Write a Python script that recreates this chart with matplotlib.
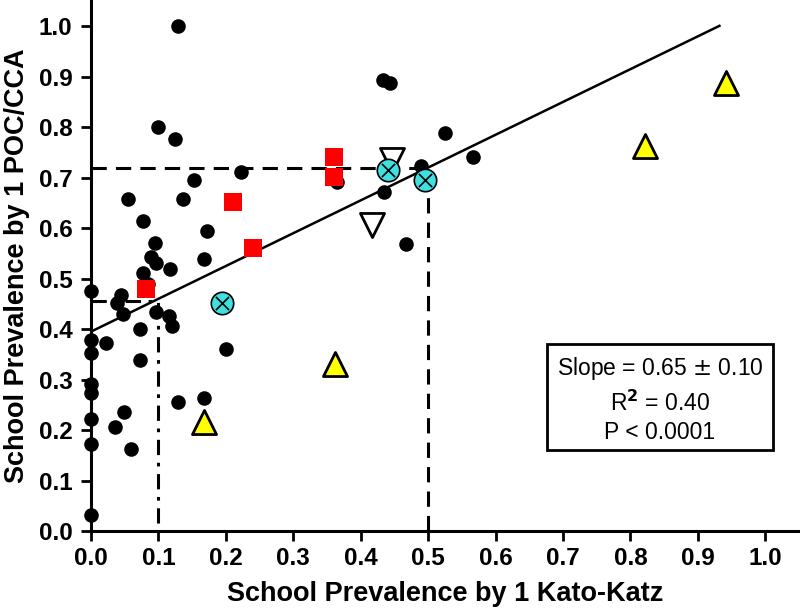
import numpy as np
import matplotlib
matplotlib.use("Agg")
import matplotlib.pyplot as plt
from matplotlib.patches import Rectangle

plt.rcParams['font.family'] = ['Liberation Sans', 'DejaVu Sans']

# black circles: schools
black_x = [0.129, 0.100, 0.125, 0.223, 0.153, 0.055, 0.136, 0.077, 0.172, 0.095,
           0.089, 0.096, 0.168, 0.117, 0.077, 0.085, 0.000, 0.044, 0.038, 0.048,
           0.096, 0.115, 0.120, 0.072, 0.000, 0.022, 0.000, 0.073, 0.200, 0.000,
           0.000, 0.129, 0.167, 0.049, 0.000, 0.035, 0.000, 0.059, 0.000, 0.433,
           0.443, 0.525, 0.566, 0.365, 0.489, 0.434, 0.467]
black_y = [1.000, 0.801, 0.776, 0.711, 0.695, 0.658, 0.657, 0.615, 0.594, 0.571,
           0.543, 0.530, 0.539, 0.519, 0.512, 0.490, 0.476, 0.467, 0.451, 0.429,
           0.434, 0.426, 0.406, 0.400, 0.378, 0.373, 0.353, 0.339, 0.360, 0.292,
           0.273, 0.256, 0.264, 0.236, 0.221, 0.207, 0.172, 0.162, 0.032, 0.893,
           0.887, 0.788, 0.740, 0.692, 0.723, 0.672, 0.568]

red_x = [0.211, 0.240, 0.081, 0.360, 0.360]
red_y = [0.651, 0.561, 0.480, 0.741, 0.702]

cyan_x = [0.194, 0.441, 0.495]
cyan_y = [0.452, 0.716, 0.695]

yellow_x = [0.168, 0.362, 0.822, 0.942]
yellow_y = [0.216, 0.330, 0.762, 0.887]

open_x = [0.447, 0.416]
open_y = [0.735, 0.606]

# regression fit
slope = 0.65
intercept = 0.395
fit_x = np.array([0.0, 0.932])

# threshold guide lines
cut_hi_x, cut_hi_y = 0.5, 0.72
cut_lo_x, cut_lo_y = 0.1, 0.456

ticks = np.round(np.arange(0, 1.01, 0.1), 1)
stats = ["Slope = 0.65 $\\pm$ 0.10", "R$^{\\mathbf{2}}$ = 0.40", "P < 0.0001"]

fig = plt.figure(figsize=(8, 6.12), dpi=100)
ax = fig.add_axes([91/800, 1 - 531/612, 708/800, 530/612])

ax.plot([0, cut_hi_x, cut_hi_x], [cut_hi_y, cut_hi_y, 0], color='k', lw=2.2,
        dashes=(5, 3), zorder=2, clip_on=False)
ax.plot([0, cut_lo_x, cut_lo_x], [cut_lo_y, cut_lo_y, 0], color='k', lw=2.2,
        dashes=(5, 2.5, 1.2, 2.5), zorder=2, clip_on=False)
ax.plot(fit_x, intercept + slope * fit_x, color='k', lw=1.8, zorder=2)

ax.scatter(black_x, black_y, s=110, c='k', zorder=3, clip_on=False, linewidths=0)
ax.scatter(red_x, red_y, marker='s', s=170, c='#ff0000', zorder=4, linewidths=0)
ax.scatter(open_x, open_y, marker='v', s=300, facecolors='white', edgecolors='k',
           linewidths=2, zorder=4)
ax.scatter(yellow_x, yellow_y, marker='^', s=300, facecolors='#ffff00',
           edgecolors='k', linewidths=2, zorder=4)
ax.scatter(cyan_x, cyan_y, marker='o', s=260, facecolors='#40e0e0',
           edgecolors='k', linewidths=1.2, zorder=5)
ax.scatter(cyan_x, cyan_y, marker='x', s=90, c='k', linewidths=1.2, zorder=6)

ax.set_xlim(0, 1.05)
ax.set_ylim(0, 1.05)
ax.set_xticks(ticks)
ax.set_yticks(ticks)
ax.set_xticklabels([f"{t:.1f}" for t in ticks], fontsize=17.5, fontweight='bold')
ax.set_yticklabels([f"{t:.1f}" for t in ticks], fontsize=17.5, fontweight='bold')
ax.tick_params(direction='out', length=7.5, width=2)
ax.tick_params(axis='x', pad=4)
ax.tick_params(axis='y', pad=6)
for side in ['top', 'right']:
    ax.spines[side].set_visible(False)
for side in ['left', 'bottom']:
    ax.spines[side].set_linewidth(2.2)

ax.set_xlabel("School Prevalence by 1 Kato-Katz", fontsize=19.5, fontweight='bold',
              labelpad=8)
ax.set_ylabel("School Prevalence by 1 POC/CCA", fontsize=19.5, fontweight='bold',
              labelpad=6)

# stats box
bx0, by0, bx1, by1 = 547, 344, 773, 450
fig.patches.append(Rectangle((bx0/800, 1 - by1/612), (bx1 - bx0)/800, (by1 - by0)/612,
                             transform=fig.transFigure, fill=False, ec='k', lw=2))
cx = (bx0 + bx1) / 2 / 800
for line, base in zip(stats, [375, 411, 439]):
    fig.text(cx, 1 - base/612, line, ha='center', va='baseline', fontsize=16.5)

fig.savefig("out.png", dpi=100)
